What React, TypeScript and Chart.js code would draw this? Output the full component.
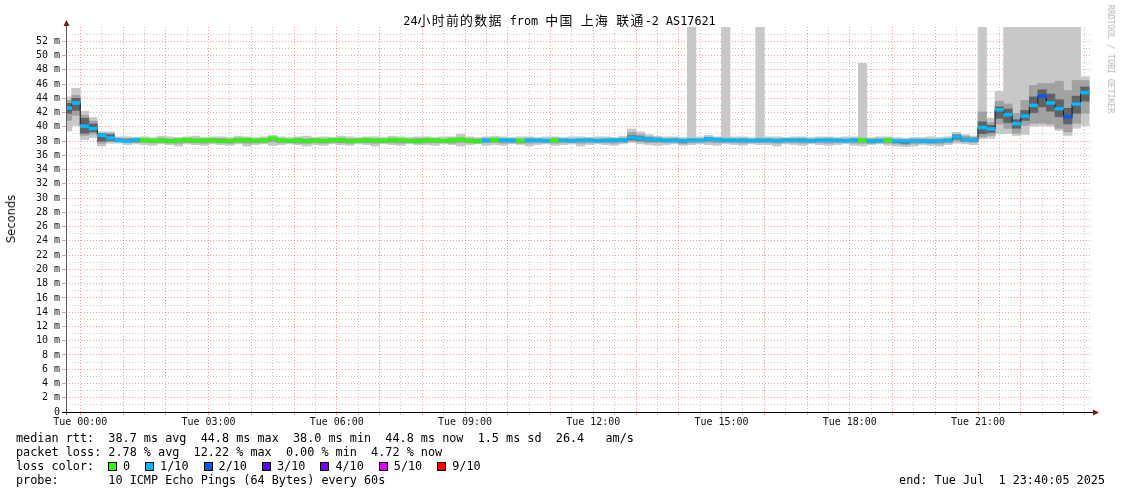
import React, { useEffect, useRef } from 'react';
import { Chart, registerables } from 'chart.js';

Chart.register(...registerables);

// ---------------- data ----------------
// time axis in minutes relative to Tue 00:00; window 23:40 (Mon) .. 23:40 (Tue)
const windowStartMin = -20;
const windowEndMin = 1420;
const firstStepCenterMin = -18;
const stepMinutes = 12;

const lossLabels = ['0', '1/10', '2/10', '3/10', '4/10', '5/10', '9/10'];
const lossColors = ['#26ff00', '#00b8ff', '#0059ff', '#5e00ff', '#7e00ff', '#dd00ff', '#ff0000'];

const medianRtt = [
  42.65, 43.35, 40.10, 39.75, 38.80, 38.45, 38.10, 38.00, 38.15, 38.10,
  38.05, 38.10, 38.00, 38.10, 38.15, 38.05, 38.10, 38.10, 38.00, 38.05,
  38.10, 38.15, 38.05, 38.10, 38.35, 38.10, 38.05, 38.10, 38.00, 38.10,
  38.05, 38.10, 38.15, 38.00, 38.05, 38.10, 38.10, 38.05, 38.15, 38.10,
  38.05, 38.00, 38.10, 38.10, 38.05, 38.10, 38.20, 38.05, 38.00, 38.10,
  38.15, 38.10, 38.10, 38.05, 38.10, 38.10, 38.05, 38.10, 38.10, 38.05,
  38.10, 38.10, 38.05, 38.10, 38.10, 38.15, 38.50, 38.35, 38.25, 38.20,
  38.10, 38.10, 38.05, 38.10, 38.10, 38.30, 38.20, 38.10, 38.10, 38.10,
  38.05, 38.10, 38.10, 38.05, 38.10, 38.10, 38.10, 38.05, 38.10, 38.10,
  38.10, 38.05, 38.10, 38.10, 38.00, 38.05, 38.10, 38.00, 38.00, 38.05,
  38.00, 38.00, 38.05, 38.10, 38.60, 38.20, 38.20, 39.90, 39.70, 42.40,
  41.70, 40.45, 41.50, 43.00, 44.30, 43.35, 42.55, 41.40, 43.20, 44.80,
];

// index into lossColors per step
const lossLevel = [
  1, 1, 1, 1, 1, 1, 1, 1, 1, 0,
  0, 0, 0, 0, 0, 0, 0, 0, 0, 0,
  0, 0, 0, 0, 0, 0, 0, 0, 0, 0,
  0, 0, 0, 0, 0, 0, 0, 0, 0, 0,
  0, 0, 0, 0, 0, 0, 0, 0, 0, 1,
  0, 1, 1, 0, 1, 1, 1, 0, 1, 1,
  1, 1, 1, 1, 1, 1, 1, 1, 1, 1,
  1, 1, 1, 1, 1, 1, 1, 1, 1, 1,
  1, 1, 1, 1, 1, 1, 1, 1, 1, 1,
  1, 1, 1, 0, 1, 1, 0, 1, 1, 1,
  1, 1, 1, 1, 1, 1, 1, 1, 1, 1,
  1, 1, 1, 1, 2, 1, 1, 2, 1, 1,
];

// outer smoke (min .. max ping)
const smokeMin = [
  39.4, 40.2, 38.2, 38.5, 37.3, 37.7, 37.7, 37.5, 37.6, 37.5,
  37.4, 37.6, 37.5, 37.3, 37.6, 37.5, 37.4, 37.6, 37.5, 37.4,
  37.6, 37.3, 37.5, 37.6, 37.4, 37.5, 37.6, 37.5, 37.3, 37.5,
  37.4, 37.6, 37.5, 37.4, 37.6, 37.5, 37.3, 37.6, 37.5, 37.4,
  37.6, 37.5, 37.5, 37.4, 37.6, 37.5, 37.3, 37.5, 37.6, 37.4,
  37.5, 37.4, 37.6, 37.5, 37.3, 37.5, 37.6, 37.4, 37.5, 37.6,
  37.3, 37.5, 37.6, 37.5, 37.4, 37.6, 37.8, 37.6, 37.5, 37.4,
  37.5, 37.6, 37.4, 37.5, 37.6, 37.5, 37.4, 37.6, 37.5, 37.4,
  37.6, 37.5, 37.5, 37.3, 37.6, 37.5, 37.4, 37.6, 37.5, 37.4,
  37.5, 37.6, 37.4, 37.3, 37.5, 37.6, 37.4, 37.3, 37.2, 37.3,
  37.5, 37.4, 37.3, 37.5, 37.7, 37.6, 37.5, 38.35, 38.4, 39.0,
  39.05, 38.8, 38.95, 40.1, 40.2, 40.1, 39.5, 38.8, 39.8, 40.2,
];
const smokeMax = [
  44.2, 45.4, 42.2, 41.3, 39.3, 39.3, 38.6, 38.6, 38.5, 38.6,
  38.5, 38.7, 38.6, 38.5, 38.6, 38.7, 38.5, 38.6, 38.6, 38.5,
  38.7, 38.6, 38.5, 38.6, 38.8, 38.6, 38.5, 38.6, 38.7, 38.5,
  38.6, 38.5, 38.7, 38.6, 38.5, 38.6, 38.6, 38.5, 38.7, 38.6,
  38.5, 38.6, 38.6, 38.5, 38.6, 38.6, 38.95, 38.6, 38.5, 38.6,
  38.7, 38.6, 38.5, 38.6, 38.6, 38.5, 38.6, 38.6, 38.5, 38.6,
  38.6, 38.5, 38.6, 38.6, 38.5, 38.7, 39.7, 39.3, 38.9, 38.7,
  38.6, 38.6, 38.5, 60.0, 38.6, 38.8, 38.6, 60.0, 38.6, 38.6,
  38.5, 60.0, 38.6, 38.6, 38.5, 38.6, 38.6, 38.5, 38.6, 38.6,
  38.5, 38.6, 38.6, 48.9, 38.5, 38.6, 38.6, 38.5, 38.4, 38.5,
  38.5, 38.6, 38.5, 38.6, 39.25, 38.9, 38.7, 60.0, 41.2, 45.0,
  60.0, 60.0, 60.0, 60.0, 60.0, 60.0, 60.0, 60.0, 60.0, 47.0,
];
// middle smoke band
const midLo = [
  40.9, 41.6, 38.8, 39.0, 37.7, 37.9, 37.9, 37.8, 37.8, 37.8,
  37.75, 37.8, 37.7, 37.7, 37.8, 37.75, 37.7, 37.8, 37.75, 37.7,
  37.8, 37.7, 37.75, 37.8, 37.9, 37.75, 37.8, 37.7, 37.7, 37.75,
  37.7, 37.8, 37.75, 37.7, 37.8, 37.75, 37.7, 37.8, 37.75, 37.7,
  37.8, 37.7, 37.75, 37.75, 37.8, 37.7, 37.8, 37.75, 37.7, 37.75,
  37.8, 37.7, 37.75, 37.7, 37.7, 37.75, 37.8, 37.7, 37.75, 37.8,
  37.7, 37.75, 37.8, 37.75, 37.7, 37.8, 37.95, 37.9, 37.8, 37.8,
  37.75, 37.8, 37.6, 37.75, 37.8, 37.8, 37.75, 37.8, 37.75, 37.7,
  37.8, 37.75, 37.75, 37.7, 37.8, 37.75, 37.7, 37.8, 37.75, 37.7,
  37.75, 37.8, 37.7, 37.7, 37.65, 37.75, 37.7, 37.6, 37.5, 37.6,
  37.7, 37.65, 37.6, 37.75, 38.0, 37.9, 37.8, 38.6, 38.8, 40.4,
  39.8, 39.1, 40.2, 40.5, 40.5, 40.4, 39.8, 39.3, 40.5, 41.9,
];
const midHi = [
  43.7, 44.4, 41.6, 40.8, 39.1, 39.1, 38.4, 38.4, 38.4, 38.35,
  38.3, 38.4, 38.3, 38.35, 38.4, 38.35, 38.3, 38.4, 38.35, 38.3,
  38.4, 38.4, 38.3, 38.35, 38.6, 38.35, 38.3, 38.4, 38.3, 38.35,
  38.3, 38.4, 38.4, 38.3, 38.35, 38.4, 38.3, 38.35, 38.4, 38.35,
  38.3, 38.35, 38.4, 38.35, 38.3, 38.4, 38.5, 38.35, 38.3, 38.4,
  38.4, 38.35, 38.35, 38.3, 38.4, 38.35, 38.3, 38.4, 38.35, 38.3,
  38.35, 38.4, 38.3, 38.35, 38.4, 38.4, 39.2, 38.9, 38.6, 38.5,
  38.35, 38.4, 38.3, 38.4, 38.35, 38.55, 38.45, 38.4, 38.35, 38.4,
  38.3, 38.4, 38.35, 38.3, 38.4, 38.35, 38.4, 38.3, 38.35, 38.4,
  38.35, 38.3, 38.4, 38.4, 38.3, 38.35, 38.4, 38.25, 38.2, 38.3,
  38.3, 38.25, 38.3, 38.35, 38.95, 38.7, 38.5, 42.1, 40.6, 43.6,
  43.2, 41.9, 43.7, 45.8, 46.1, 46.1, 46.4, 45.1, 46.5, 46.5,
];
// dark core band around the median
const coreLo = [
  41.9, 42.3, 39.1, 39.3, 38.0, 38.1, 38.0, 37.9, 37.95, 37.95,
  37.9, 37.95, 37.85, 37.95, 38.0, 37.9, 37.95, 37.95, 37.85, 37.9,
  37.95, 38.0, 37.9, 37.95, 38.2, 37.95, 37.9, 37.95, 37.85, 37.95,
  37.9, 37.95, 38.0, 37.85, 37.9, 37.95, 37.95, 37.9, 38.0, 37.95,
  37.9, 37.85, 37.95, 37.95, 37.9, 37.95, 38.05, 37.9, 37.85, 37.95,
  38.0, 37.95, 37.95, 37.9, 37.95, 37.95, 37.9, 37.95, 37.95, 37.9,
  37.95, 37.95, 37.9, 37.95, 37.95, 38.0, 38.2, 38.1, 38.0, 38.0,
  37.95, 37.95, 37.85, 37.95, 37.95, 38.1, 38.05, 37.95, 37.95, 37.95,
  37.9, 37.95, 37.95, 37.9, 37.95, 37.95, 37.95, 37.9, 37.95, 37.95,
  37.95, 37.9, 37.95, 37.95, 37.85, 37.9, 37.95, 37.8, 37.7, 37.9,
  37.85, 37.85, 37.9, 37.95, 38.3, 38.0, 38.0, 39.05, 39.2, 41.2,
  40.6, 39.8, 40.9, 42.0, 42.8, 42.2, 41.4, 40.4, 41.9, 43.6,
];
const coreHi = [
  43.3, 44.0, 41.2, 40.4, 39.0, 38.9, 38.3, 38.2, 38.3, 38.25,
  38.2, 38.25, 38.15, 38.25, 38.3, 38.2, 38.25, 38.25, 38.15, 38.2,
  38.25, 38.3, 38.2, 38.25, 38.5, 38.25, 38.2, 38.25, 38.15, 38.25,
  38.2, 38.25, 38.3, 38.15, 38.2, 38.25, 38.25, 38.2, 38.3, 38.25,
  38.2, 38.15, 38.25, 38.25, 38.2, 38.25, 38.35, 38.2, 38.15, 38.25,
  38.3, 38.25, 38.25, 38.2, 38.25, 38.25, 38.2, 38.25, 38.25, 38.2,
  38.25, 38.25, 38.2, 38.25, 38.25, 38.3, 38.75, 38.6, 38.45, 38.35,
  38.25, 38.25, 38.2, 38.25, 38.25, 38.45, 38.35, 38.25, 38.25, 38.25,
  38.2, 38.25, 38.25, 38.2, 38.25, 38.25, 38.25, 38.2, 38.25, 38.25,
  38.25, 38.2, 38.25, 38.25, 38.15, 38.2, 38.25, 38.15, 38.1, 38.2,
  38.15, 38.15, 38.2, 38.25, 38.85, 38.4, 38.4, 40.7, 40.2, 42.8,
  42.5, 41.0, 42.3, 44.2, 45.2, 44.6, 43.8, 42.6, 44.3, 45.6,
];

// axes
const yMax = 54;
const yLabelMax = 52;
const xLabelHours = [0, 3, 6, 9, 12, 15, 18, 21];
const dayName = 'Tue';

// texts
const titleRuns: [string, boolean][] = [
  ['24', false], ['小时前的数据', true], [' from ', false], ['中国', true], [' ', false],
  ['上海', true], [' ', false], ['联通', true], ['-2 AS17621', false],
];
const yAxisTitle = 'Seconds';
const watermark = 'RRDTOOL / TOBI OETIKER';
const statsMedian = 'median rtt:  38.7 ms avg  44.8 ms max  38.0 ms min  44.8 ms now  1.5 ms sd  26.4   am/s';
const statsLoss = 'packet loss: 2.78 % avg  12.22 % max  0.00 % min  4.72 % now';
const lossColorLabel = 'loss color:';
const probeText = 'probe:       10 ICMP Echo Pings (64 Bytes) every 60s';
const endText = 'end: Tue Jul  1 23:40:05 2025';

// ---------------- chart ----------------
const MONO = '"DejaVu Sans Mono", "Noto Sans CJK SC", monospace';
const GRID_MAJOR = 'rgba(255, 0, 0, 0.40)';
const GRID_MINOR = 'rgba(120, 120, 120, 0.40)';

const stepX = medianRtt.map((_, i) => firstStepCenterMin + i * stepMinutes);
const band = (lo: number[], hi: number[]) => stepX.map((x, i) => ({ x, y: [lo[i], hi[i]] }));

const axesPlugin = {
  id: 'rrdAxes',
  afterDraw(chart: any) {
    const { ctx, chartArea } = chart;
    const { left, right, top, bottom } = chartArea;
    ctx.save();
    // y axis
    ctx.strokeStyle = '#5a5a5a';
    ctx.lineWidth = 1;
    ctx.beginPath();
    ctx.moveTo(Math.round(left) + 0.5, bottom + 3);
    ctx.lineTo(Math.round(left) + 0.5, top - 4);
    ctx.stroke();
    // x axis
    ctx.strokeStyle = '#000';
    ctx.beginPath();
    ctx.moveTo(left - 4, Math.round(bottom) + 0.5);
    ctx.lineTo(right + 2, Math.round(bottom) + 0.5);
    ctx.stroke();
    // arrows
    ctx.fillStyle = '#7d1515';
    const lx = Math.round(left) + 0.5;
    ctx.beginPath();
    ctx.moveTo(lx - 3, top - 1);
    ctx.lineTo(lx + 3, top - 1);
    ctx.lineTo(lx, top - 7);
    ctx.closePath();
    ctx.fill();
    const by = Math.round(bottom) + 0.5;
    ctx.beginPath();
    ctx.moveTo(right + 1, by - 3);
    ctx.lineTo(right + 1, by + 3);
    ctx.lineTo(right + 7, by);
    ctx.closePath();
    ctx.fill();
    ctx.restore();
  },
};

function SmokeChart() {
  const ref = useRef<HTMLCanvasElement | null>(null);

  useEffect(() => {
    if (!ref.current) return;
    const xTicks: { value: number }[] = [];
    for (let m = 0; m < windowEndMin; m += 30) xTicks.push({ value: m });
    const yTicks: { value: number }[] = [];
    for (let v = 0; v <= yMax; v += 1) yTicks.push({ value: v });

    const barCommon = {
      type: 'bar' as const,
      grouped: false,
      barPercentage: 1,
      categoryPercentage: 1,
      borderWidth: 0,
      clip: 0,
    };

    const chart = new Chart(ref.current, {
      type: 'bar',
      data: {
        datasets: [
          {
            ...barCommon,
            data: stepX.map((x, i) => ({ x, y: [medianRtt[i] - 0.2, medianRtt[i] + 0.2] })),
            backgroundColor: lossLevel.map((l) => lossColors[l]),
            order: 1,
          },
          {
            type: 'line',
            data: stepX.map((x, i) => ({ x, y: medianRtt[i] })),
            stepped: 'middle',
            borderColor: '#1c1c1c',
            borderWidth: 1,
            pointRadius: 0,
            clip: 0,
            order: 2,
          },
          { ...barCommon, data: band(coreLo, coreHi), backgroundColor: '#626262', order: 3 },
          { ...barCommon, data: band(midLo, midHi), backgroundColor: '#a2a2a2', order: 4 },
          { ...barCommon, data: band(smokeMin, smokeMax), backgroundColor: '#c8c8c8', order: 5 },
        ] as any,
      },
      options: {
        animation: false,
        responsive: false,
        maintainAspectRatio: false,
        layout: { padding: { left: 0, right: 29, top: 27, bottom: 62 } },
        plugins: {
          legend: { display: false },
          tooltip: { enabled: false },
          title: { display: false },
        },
        scales: {
          x: {
            type: 'linear',
            min: windowStartMin,
            max: windowEndMin,
            offset: false,
            afterBuildTicks: (s: any) => { s.ticks = xTicks; },
            afterFit: (s: any) => { s.height = 20; },
            grid: {
              offset: false,
              color: (c: any) => (c.tick && c.tick.value % 60 === 0 ? GRID_MAJOR : GRID_MINOR),
              tickColor: (c: any) => (c.tick && c.tick.value % 60 === 0 ? GRID_MAJOR : GRID_MINOR),
              lineWidth: 1,
              tickLength: 3,
              drawTicks: true,
            },
            border: { display: false, dash: [1, 2] },
            ticks: {
              autoSkip: false,
              maxRotation: 0,
              minRotation: 0,
              padding: 1,
              color: '#111',
              font: { family: MONO, size: 10 },
              callback: (v: any) => {
                const m = Number(v);
                if (m % 60 !== 0) return '';
                const h = m / 60;
                if (!xLabelHours.includes(h)) return '';
                return `${dayName} ${String(h).padStart(2, '0')}:00`;
              },
            },
          },
          y: {
            type: 'linear',
            min: 0,
            max: yMax,
            afterBuildTicks: (s: any) => { s.ticks = yTicks; },
            afterFit: (s: any) => { s.width = 66; },
            grid: {
              color: (c: any) => {
                const v = c.tick ? c.tick.value : 0;
                if (v > yLabelMax + 1) return 'rgba(0,0,0,0)';
                return v % 2 === 0 ? GRID_MAJOR : GRID_MINOR;
              },
              tickColor: (c: any) => {
                const v = c.tick ? c.tick.value : 0;
                if (v > yLabelMax) return 'rgba(0,0,0,0)';
                return v % 2 === 0 ? GRID_MAJOR : 'rgba(0,0,0,0)';
              },
              lineWidth: 1,
              tickLength: 4,
              drawTicks: true,
            },
            border: { display: false, dash: [1, 2] },
            ticks: {
              autoSkip: false,
              padding: 2,
              color: '#111',
              font: { family: MONO, size: 10 },
              callback: (v: any) => {
                const n = Number(v);
                if (n > yLabelMax || n % 2 !== 0) return '';
                return n === 0 ? '0' : `${n} m`;
              },
            },
          },
        },
      } as any,
      plugins: [axesPlugin],
    });
    return () => chart.destroy();
  }, []);

  return (
    <canvas
      ref={ref}
      width={1121}
      height={494}
      style={{ position: 'absolute', left: 0, top: 0, width: 1121, height: 494 }}
    />
  );
}

export default function App() {
  const textBase: React.CSSProperties = {
    position: 'absolute',
    fontFamily: MONO,
    fontSize: 11.8,
    lineHeight: '14px',
    whiteSpace: 'pre',
    color: '#000',
  };
  return (
    <div style={{ position: 'absolute', left: 0, top: 0, width: 1121, height: 494, background: '#fff', overflow: 'hidden' }}>
      <SmokeChart />
      <div style={{ ...textBase, left: 0, width: 1119, top: 14, textAlign: 'center' }}>
        {titleRuns.map(([t, cjk], i) => (
          <span key={i} style={cjk ? { letterSpacing: '1.3px', fontSize: 12.9 } : undefined}>{t}</span>
        ))}
      </div>
      <div
        style={{
          position: 'absolute', left: 11, top: 219, transform: 'translate(-50%, -50%) rotate(-90deg)',
          fontFamily: '"DejaVu Sans", sans-serif', fontSize: 11.5, color: '#111', whiteSpace: 'pre', lineHeight: '14px',
        }}
      >
        {yAxisTitle}
      </div>
      <div
        style={{
          position: 'absolute', left: 1111, top: 59, transform: 'translate(-50%, -50%) rotate(90deg)',
          fontFamily: MONO, fontSize: 8.2, color: '#b4b4b4', whiteSpace: 'pre', lineHeight: '10px',
        }}
      >
        {watermark}
      </div>
      <div style={{ ...textBase, left: 16, top: 431 }}>{statsMedian}</div>
      <div style={{ ...textBase, left: 16, top: 445 }}>{statsLoss}</div>
      <div style={{ ...textBase, left: 16, top: 459 }}>{lossColorLabel}</div>
      <div style={{ ...textBase, left: 108, top: 459, display: 'flex', alignItems: 'center', height: 14 }}>
        {lossLabels.map((l, i) => (
          <span key={l} style={{ display: 'inline-flex', alignItems: 'center', marginRight: 15 }}>
            <span style={{ display: 'inline-block', width: 7, height: 7, border: '1px solid #000', background: lossColors[i], marginRight: 6 }} />
            <span>{l}</span>
          </span>
        ))}
      </div>
      <div style={{ ...textBase, left: 16, top: 473 }}>{probeText}</div>
      <div style={{ ...textBase, right: 1121 - 1105, top: 473 }}>{endText}</div>
    </div>
  );
}
